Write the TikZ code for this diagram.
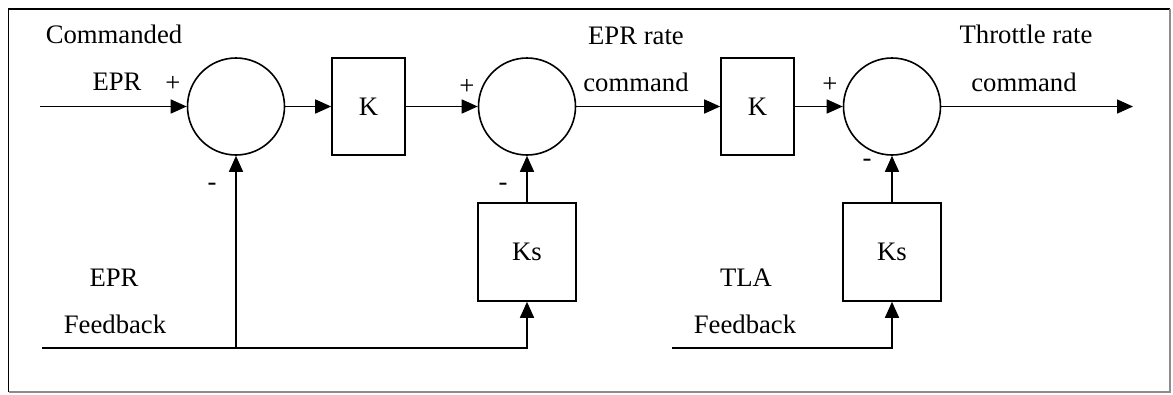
\documentclass[tikz,border=0pt]{standalone}
\usepackage{fontspec}
\setmainfont{Liberation Serif}
\usetikzlibrary{arrows.meta}
\begin{document}
\begin{tikzpicture}[x=1pt,y=-1pt,
  every node/.style={font=\fontsize{26.7}{30}\selectfont},
  wire/.style={line width=1.6pt},
  sig/.style={wire,-{Triangle[length=16pt,width=14pt]}},
  sumnode/.style={circle,draw,line width=1.6pt,minimum size=97pt,inner sep=0pt},
  gainbox/.style={rectangle,draw,line width=1.6pt,minimum width=73pt,minimum height=97pt,inner sep=0pt},
  ksbox/.style={rectangle,draw,line width=1.6pt,minimum width=98pt,minimum height=98pt,inner sep=0pt},
  lbl/.style={anchor=base,inner sep=0pt}
]
\useasboundingbox (0,0) rectangle (1173,394);
\draw[line width=1.2pt] (8.5,392) -- (8.5,9) -- (1170,9);
\draw[line width=1.2pt,black!45] (1170,9) -- (1170,392) -- (8.5,392);

% blocks
\node[sumnode] (s1) at (236,106.5) {};
\node[gainbox] (k1) at (368.5,106.5) {K};
\node[sumnode] (s2) at (527,106.5) {};
\node[gainbox] (k2) at (757.5,106.5) {K};
\node[sumnode] (s3) at (892,106.5) {};
\node[ksbox] (ks1) at (527,252) {Ks};
\node[ksbox] (ks2) at (892,252) {Ks};

% free ends
\coordinate (in) at (40,106.5);
\coordinate (out) at (1133,106.5);
\coordinate (fb1) at (42,348);
\coordinate (j1) at (236,348);
\coordinate (c1) at (527,348);
\coordinate (fb2) at (672,348);
\coordinate (c2) at (892,348);

% connectors
\draw[sig] (in) -- (s1.west);
\draw[sig] (s1.east) -- (k1.west);
\draw[sig] (k1.east) -- (s2.west);
\draw[sig] (s2.east) -- (k2.west);
\draw[sig] (k2.east) -- (s3.west);
\draw[sig] (s3.east) -- (out);
\draw[sig] (j1) -- (s1.south);
\draw[sig] (ks1.north) -- (s2.south);
\draw[sig] (ks2.north) -- (s3.south);
\draw[sig] (fb1) -- (c1) -- (ks1.south);
\draw[sig] (fb2) -- (c2) -- (ks2.south);

% labels
\node[lbl] (t1) at (114,43) {Commanded};
\node[lbl] (t2) at (117,90) {EPR};
\node[lbl] (t3) at (636,44) {EPR rate};
\node[lbl] (t4) at (636,91) {command};
\node[lbl] (t5) at (1026,43) {Throttle rate};
\node[lbl] (t6) at (1024,91) {command};
\node[lbl] (t7) at (114,286) {EPR};
\node[lbl] (t8) at (115,333) {Feedback};
\node[lbl] (t9) at (746,286) {TLA};
\node[lbl] (t10) at (745,333) {Feedback};
\node (p1) at (173,84) {+};
\node (p2) at (467,87) {+};
\node (p3) at (830,85) {+};
\node (m1) at (212,187) {-};
\node (m2) at (503,187) {-};
\node (m3) at (867,163) {-};
\end{tikzpicture}
\end{document}
